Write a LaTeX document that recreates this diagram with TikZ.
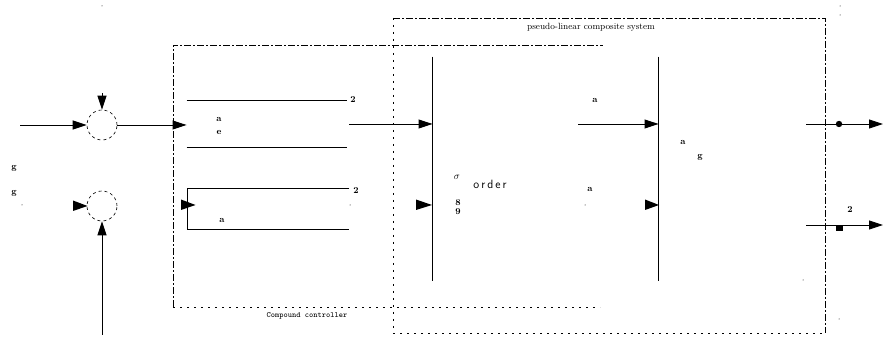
\documentclass[tikz,border=0pt]{standalone}
\usetikzlibrary{arrows.meta}
\begin{document}
\begin{tikzpicture}[x=1pt,y=-1pt,
  line width=0.9pt,
  arr/.style={-{Triangle[length=14pt,width=9pt]}},
  sumnode/.style={circle,draw,dashed,line width=0.6pt,minimum size=30pt,inner sep=0pt},
  ghost/.style={inner sep=0pt,minimum size=0pt},
  glyph/.style={font=\small\bfseries,inner sep=0pt},
  dashdot/.style={line width=0.8pt,dash pattern=on 7pt off 2pt on 2pt off 2pt},
  dotline/.style={line width=0.8pt,dash pattern=on 2pt off 5pt}]
\useasboundingbox (0,0) rectangle (883,344);

% summing junctions
\node[sumnode] (s1) at (102,125) {};
\node[sumnode] (s2) at (102,206) {};
\coordinate (in1) at (20,125);
\coordinate (in2) at (102,335);
\coordinate (top1) at (102,93);

\draw[arr] (in1) -- (s1.west);
\draw[arr] (top1) -- (s1.north);
\draw[arr] (in2) -- (s2.south);
\fill (73,200.5) -- (87.5,206) -- (73,211) -- cycle;

% compound controller frame
\draw[dashdot] (173,307) -- (173,45) -- (603,45);
\draw[dotline] (173,307) -- (600,307);
\node[font=\ttfamily\footnotesize,inner sep=0pt] (cclabel) at (307,316) {Compound controller};

% controller block 1 (top and bottom lines)
\node[ghost,minimum width=160pt,minimum height=46pt] (c1) at (267,124) {};
\draw (c1.north west) -- (c1.north east);
\draw (c1.south west) -- (c1.south east);
\draw[arr] (s1.east) -- (c1.west |- s1.east);
\node[glyph] (g1) at (219,119) {a};
\node[glyph] (g2) at (219,132) {e};
\node[glyph] (g3) at (353,100) {2};

% controller block 2 (open on the right)
\node[ghost,minimum width=161pt,minimum height=40pt] (c2) at (268.5,209) {};
\draw (c2.north east) -- (c2.north west) -- (c2.south west) -- (c2.south east);
\fill (181,199.5) -- (195.5,205) -- (181,210) -- cycle;
\node[glyph] (g4) at (222,220) {a};
\node[glyph] (g5) at (356,191) {2};
\fill (350,205) circle (0.5pt);

% pseudo-linear composite system frame
\draw[dashdot] (393,18) -- (825,18) -- (825,333);
\draw[dotline] (393,18) -- (393,333);
\draw[dotline] (393,333) -- (825,333);
\node[font=\small,inner sep=0pt] (plabel) at (591,27) {pseudo-linear composite system};

% plant block 1
\node[ghost,minimum width=144pt,minimum height=224pt] (p1) at (505,169) {};
\draw (p1.north west) -- (p1.south west);
\coordinate (p1in1) at (p1.west |- 0,124);
\coordinate (c1out) at (349,124);
\draw[arr] (c1out) -- (p1in1);
\fill (416,199.5) -- (432,205) -- (416,210) -- cycle;
\node[inner sep=0pt] (sig) at (457,177) {$\sigma$};
\node[font=\sffamily\large,inner sep=0pt] (ord) at (490,184) {o\,r\,d\,e\,r};
\node[glyph] (g6) at (458,203) {8};
\node[glyph] (g7) at (458,212) {9};
\node[glyph] (g8) at (595,100) {a};
\node[glyph] (g9) at (590,189) {a};
\fill (585,205) circle (0.5pt);

% plant block 2
\node[ghost,minimum width=146pt,minimum height=224pt] (p2) at (732,169) {};
\draw (p2.north west) -- (p2.south west);
\coordinate (p2in1) at (p2.west |- 0,124);
\coordinate (p1out) at (578,124);
\draw[arr] (p1out) -- (p2in1);
\fill (645,199.5) -- (659,205) -- (645,210) -- cycle;
\node[glyph] (g10) at (683,142) {a};
\node[glyph] (g11) at (700,157) {g};

% outputs
\coordinate (o1s) at (806,124);
\coordinate (o1e) at (883,124);
\coordinate (o2s) at (806,225);
\coordinate (o2e) at (883,225);
\draw[arr] (o1s) -- (o1e);
\draw[arr] (o2s) -- (o2e);
\fill (839,124) circle (3.2pt);
\fill (835.5,225) rectangle (842.5,231.5);
\node[glyph] (g12) at (850,210) {2};

% left labels and stray dots
\node[glyph] (g13) at (14,168) {g};
\node[glyph] (g14) at (14,193) {g};
\fill (22,205) circle (0.5pt);
\fill (102,6) circle (0.5pt);
\fill (840,6) circle (0.5pt);
\fill (840,15) circle (0.5pt);
\fill (803,280) circle (0.5pt);
\fill (839,319) circle (0.5pt);
\end{tikzpicture}
\end{document}
